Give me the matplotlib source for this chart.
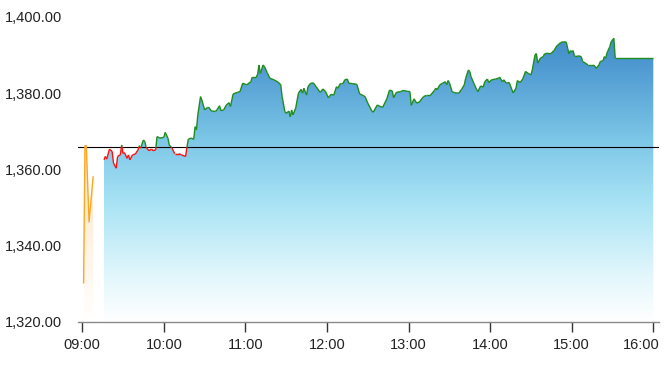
import numpy as np
import matplotlib
matplotlib.use("Agg")
import matplotlib.pyplot as plt
import matplotlib.transforms as mtransforms
from matplotlib.collections import LineCollection
from matplotlib.colors import LinearSegmentedColormap

plt.rcParams['font.family'] = ['Liberation Sans', 'DejaVu Sans']

prev_close = 1365.9

# pre-open auction
auction_times = ["09:01", "09:02", "09:03", "09:05", "09:08"]
auction_prices = [1330.2, 1366.2, 1366.2, 1346.2, 1358.0]

# continuous trading
trade_times = [
    "09:16", "09:17", "09:18", "09:20", "09:22", "09:23", "09:25", "09:26", "09:28", "09:29",
    "09:30", "09:31", "09:33", "09:34", "09:35", "09:37", "09:39", "09:41", "09:42", "09:43",
    "09:45", "09:46", "09:47", "09:49", "09:51", "09:52", "09:54", "09:55", "09:57", "10:00",
    "10:01", "10:03", "10:04", "10:06", "10:08", "10:11", "10:13", "10:16", "10:17", "10:18",
    "10:20", "10:22", "10:23", "10:24", "10:25", "10:27", "10:28", "10:30", "10:32", "10:33",
    "10:35", "10:38", "10:39", "10:41", "10:42", "10:44", "10:46", "10:48", "10:49", "10:51",
    "10:54", "10:56", "10:58", "11:01", "11:04", "11:05", "11:08", "11:09", "11:10", "11:11",
    "11:13", "11:14", "11:16", "11:18", "11:21", "11:24", "11:26", "11:27", "11:29", "11:30",
    "11:32", "11:33", "11:34", "11:35", "11:37", "11:39", "11:41", "11:42", "11:43", "11:45",
    "11:46", "11:48", "11:50", "11:52", "11:55", "11:57", "11:59", "12:01", "12:03", "12:05",
    "12:07", "12:08", "12:10", "12:12", "12:13", "12:15", "12:16", "12:19", "12:22", "12:24",
    "12:26", "12:28", "12:30", "12:33", "12:34", "12:37", "12:39", "12:41", "12:44", "12:46",
    "12:48", "12:49", "12:51", "12:54", "12:56", "12:59", "13:01", "13:02", "13:04", "13:06",
    "13:08", "13:11", "13:13", "13:16", "13:19", "13:20", "13:21", "13:23", "13:25", "13:27",
    "13:28", "13:29", "13:30", "13:32", "13:34", "13:37", "13:39", "13:41", "13:42", "13:44",
    "13:45", "13:46", "13:48", "13:50", "13:51", "13:53", "13:55", "13:56", "13:58", "13:59",
    "14:01", "14:04", "14:06", "14:07", "14:09", "14:10", "14:12", "14:14", "14:16", "14:17",
    "14:19", "14:20", "14:22", "14:24", "14:26", "14:28", "14:30", "14:31", "14:33", "14:34",
    "14:35", "14:37", "14:39", "14:40", "14:42", "14:44", "14:45", "14:47", "14:49", "14:50",
    "14:52", "14:54", "14:56", "14:57", "14:58", "14:59", "15:01", "15:02", "15:03", "15:05",
    "15:07", "15:08", "15:10", "15:12", "15:14", "15:16", "15:17", "15:18", "15:20", "15:21",
    "15:23", "15:24", "15:25", "15:26", "15:28", "15:29", "15:31", "15:32", "16:00",
]
trade_prices = [
    1362.5, 1363.4, 1362.7, 1365.3, 1364.7, 1361.6, 1360.3, 1363.4, 1363.8, 1366.4,
    1364.2, 1364.4, 1362.9, 1363.8, 1362.5, 1363.8, 1364.0, 1365.1, 1366.2, 1365.6,
    1367.7, 1367.3, 1365.8, 1364.9, 1365.3, 1364.9, 1365.1, 1368.6, 1368.2, 1368.4,
    1369.7, 1368.2, 1366.4, 1365.6, 1364.1, 1364.1, 1363.8, 1363.4, 1365.8, 1367.9,
    1368.2, 1367.9, 1371.2, 1370.4, 1374.3, 1379.1, 1378.2, 1375.6, 1376.2, 1376.3,
    1375.3, 1375.2, 1375.6, 1376.7, 1375.4, 1375.6, 1376.9, 1377.5, 1376.5, 1379.8,
    1380.2, 1380.4, 1382.6, 1382.2, 1383.0, 1384.2, 1384.2, 1385.0, 1387.4, 1385.2,
    1387.4, 1387.0, 1385.4, 1383.9, 1383.5, 1382.9, 1382.2, 1379.1, 1375.2, 1374.7,
    1375.3, 1373.8, 1375.6, 1374.3, 1376.1, 1380.0, 1381.0, 1380.0, 1381.3, 1379.5,
    1381.7, 1382.6, 1382.7, 1381.7, 1380.2, 1381.1, 1380.4, 1378.8, 1379.7, 1379.5,
    1381.7, 1381.3, 1382.6, 1382.6, 1383.5, 1383.7, 1382.6, 1382.5, 1382.3, 1379.8,
    1379.5, 1379.1, 1377.4, 1375.3, 1375.0, 1376.9, 1376.5, 1376.3, 1378.5, 1380.8,
    1380.6, 1378.8, 1380.2, 1380.4, 1380.7, 1380.5, 1380.4, 1376.8, 1378.5, 1377.4,
    1377.7, 1379.1, 1379.4, 1379.4, 1380.7, 1381.3, 1380.9, 1382.2, 1382.6, 1383.0,
    1382.2, 1383.3, 1382.8, 1380.4, 1380.1, 1380.0, 1381.0, 1382.2, 1383.9, 1386.1,
    1385.7, 1384.3, 1382.6, 1381.0, 1380.4, 1381.9, 1381.6, 1383.0, 1383.7, 1382.8,
    1383.5, 1383.7, 1383.9, 1384.2, 1383.0, 1383.5, 1382.6, 1382.8, 1380.9, 1380.1,
    1381.3, 1383.3, 1382.8, 1383.7, 1385.7, 1385.2, 1384.8, 1386.1, 1390.0, 1390.4,
    1387.9, 1389.2, 1389.6, 1390.3, 1390.5, 1390.3, 1390.5, 1391.2, 1392.4, 1392.7,
    1393.3, 1393.5, 1393.4, 1391.8, 1390.3, 1391.2, 1391.2, 1389.8, 1389.6, 1389.8,
    1389.6, 1388.3, 1387.9, 1387.4, 1387.4, 1387.4, 1387.1, 1386.5, 1387.4, 1388.3,
    1388.5, 1389.6, 1389.2, 1390.6, 1392.2, 1393.5, 1394.4, 1389.2, 1389.2,
]

hour_labels = ["09:00", "10:00", "11:00", "12:00", "13:00", "14:00", "15:00", "16:00"]
price_ticks = [1320, 1340, 1360, 1380, 1400]


def to_minutes(labels):
    out = []
    for s in labels:
        h, m = s.split(":")
        out.append((int(h) - 9) * 60 + int(m))
    return np.array(out, dtype=float)


def split_by_level(x, y, level, up_col, down_col):
    """cut the line where it crosses level so each piece gets one colour."""
    segs, cols = [], []
    for i in range(len(x) - 1):
        x0, y0, x1, y1 = x[i], y[i], x[i + 1], y[i + 1]
        d0, d1 = y0 - level, y1 - level
        if d0 * d1 < 0:
            xc = x0 + (x1 - x0) * d0 / (d0 - d1)
            segs.append([(x0, y0), (xc, level)])
            cols.append(up_col if d0 > 0 else down_col)
            segs.append([(xc, level), (x1, y1)])
            cols.append(up_col if d1 > 0 else down_col)
        else:
            segs.append([(x0, y0), (x1, y1)])
            side = d0 + d1
            cols.append(up_col if side >= 0 else down_col)
    return segs, cols


def gradient_fill(ax, x, y, cmap, y0, y1):
    poly = ax.fill_between(x, y, y0, facecolor='none', edgecolor='none')
    grad = np.linspace(0, 1, 256).reshape(-1, 1)
    img = ax.imshow(grad, cmap=cmap, aspect='auto', origin='lower',
                    extent=[x.min(), x.max(), y0, y1], zorder=1)
    img.set_clip_path(poly.get_paths()[0], transform=ax.transData)


blue_cmap = LinearSegmentedColormap.from_list('blues', [
    (0.0, '#ffffff'), (0.15, '#e2f7fc'), (0.4, '#a6e2f4'),
    (0.6, '#7cc6e7'), (0.85, '#4d98d0'), (1.0, '#3d84c4')])
orange_cmap = LinearSegmentedColormap.from_list('oranges', ['#ffffff', '#ffe4c2'])

fig = plt.figure(figsize=(6.67, 3.66), dpi=100)
ax = fig.add_axes([0.1174, 0.121, 0.8706, 0.8326])

ta = to_minutes(auction_times)
pa = np.array(auction_prices)
tt = to_minutes(trade_times)
pt = np.array(trade_prices)

gradient_fill(ax, ta, pa, orange_cmap, 1320, pa.max())
ax.plot(ta, pa, color='#ffa51f', lw=1.0, zorder=4)

gradient_fill(ax, tt, pt, blue_cmap, 1320, 1400)
segs, cols = split_by_level(tt, pt, prev_close, '#1e8c1e', '#ff1010')
ax.add_collection(LineCollection(segs, colors=cols, linewidths=1.0, zorder=4))

ax.axhline(prev_close, color='black', lw=0.8, zorder=3)

ax.set_xlim(-2.9, 424.2)
ax.set_ylim(1320, 1400)

ax.set_xticks(np.arange(len(hour_labels)) * 60)
ax.set_xticklabels(hour_labels)
ax.set_yticks(price_ticks)
ax.set_yticklabels([f"{v:,.2f}" for v in price_ticks])

for side in ['top', 'right', 'left']:
    ax.spines[side].set_visible(False)
ax.spines['bottom'].set_color('#8a8a8a')
ax.spines['bottom'].set_linewidth(1.0)
ax.tick_params(axis='x', length=7.5, width=1.0, color='#333333', pad=4.5,
               labelsize=10.5, labelcolor='#222222')
ax.tick_params(axis='y', length=0, pad=12, labelsize=10.5, labelcolor='#222222')

# last label is pushed inside the frame, like the original
last = ax.get_xticklabels()[-1]
last.set_horizontalalignment('right')
last.set_transform(last.get_transform() +
                   mtransforms.ScaledTranslation(6 / 100, 0, fig.dpi_scale_trans))

fig.savefig('out.png', dpi=100)
